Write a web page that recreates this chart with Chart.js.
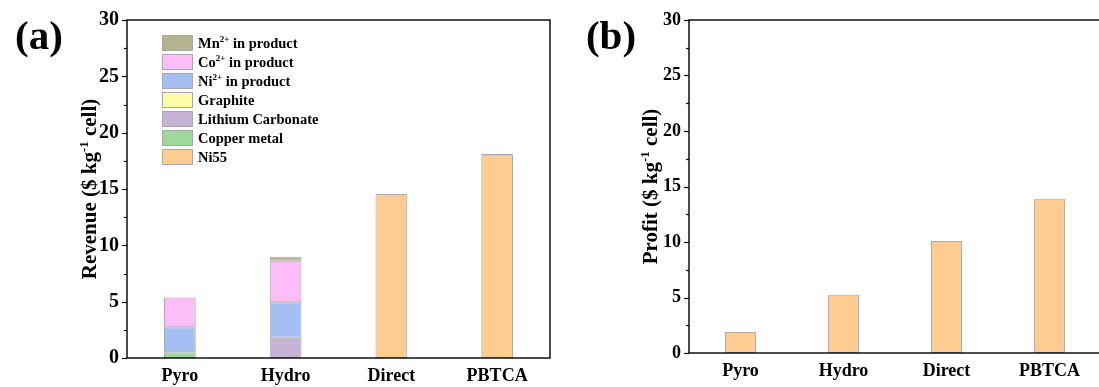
<!DOCTYPE html>
<html>
<head>
<meta charset="utf-8">
<script src="https://cdn.jsdelivr.net/npm/chart.js@4.4.1/dist/chart.umd.min.js"></script>
<style>
  html, body { margin: 0; padding: 0; background: #fff; overflow: hidden; width: 1099px; height: 387px; }
  #revenue { position: absolute; left: 0; top: 0; }
  #profit { position: absolute; left: 580px; top: 0; }
</style>
</head>
<body>
<canvas id="revenue" width="560" height="387"></canvas>
<canvas id="profit" width="530" height="387"></canvas>
<script>
// Recycling routes
const categories = ['Pyro', 'Hydro', 'Direct', 'PBTCA'];

// Revenue components ($ kg-1 cell), stacked bottom to top
const ni55      = [null, null, 14.56, 18.0];
const copper    = [0.5, null, null, null];
const lithium   = [null, 1.8, null, 0.12];
const graphite  = [null, null, null, null];
const nickel    = [2.24, 3.15, null, null];
const cobalt    = [2.62, 3.68, null, null];
const manganese = [null, 0.35, null, null];

// Profit ($ kg-1 cell)
const profit = [1.9, 5.25, 10.1, 13.9];

// Y axis ticks
const yMin = 0, yMax = 30, yStep = 5, yMinorStep = 2.5;

const SERIF = '"Liberation Serif", "Times New Roman", serif';
const EDGE = '#a9a9a9';

// Draw a run of text pieces, some of them raised as superscripts
function richWidth(ctx, parts, size) {
  let w = 0;
  for (const p of parts) {
    ctx.font = 'bold ' + (p.sup ? size * 0.62 : size) + 'px ' + SERIF;
    w += ctx.measureText(p.t).width;
  }
  return w;
}
function drawRich(ctx, parts, x, y, size) {
  let cx = x;
  for (const p of parts) {
    const s = p.sup ? size * 0.62 : size;
    ctx.font = 'bold ' + s + 'px ' + SERIF;
    ctx.fillText(p.t, cx, p.sup ? y - size * 0.38 : y);
    cx += ctx.measureText(p.t).width;
  }
}

// Frame, outward y ticks, panel letter and rotated y title
function decorations(opts) {
  return {
    id: 'decor',
    afterDraw(chart) {
      const ctx = chart.ctx;
      const a = chart.chartArea;
      const ys = chart.scales.y;
      ctx.save();
      ctx.strokeStyle = '#000';
      ctx.lineWidth = 1.4;
      ctx.strokeRect(a.left, a.top, a.right - a.left, a.bottom - a.top);
      ctx.lineWidth = 1.2;
      for (let v = yMin; v <= yMax + 1e-9; v += yMinorStep) {
        const py = Math.round(ys.getPixelForValue(v)) + 0.5;
        const len = (Math.abs(v % yStep) < 1e-9) ? 5 : 3;
        ctx.beginPath();
        ctx.moveTo(a.left - len, py);
        ctx.lineTo(a.left, py);
        ctx.stroke();
      }
      ctx.fillStyle = '#000';
      ctx.textAlign = 'center';
      ctx.textBaseline = 'middle';
      ctx.font = 'bold ' + opts.letterSize + 'px ' + SERIF;
      ctx.fillText(opts.letter, opts.letterX, opts.letterY);

      ctx.translate(opts.titleX, (a.top + a.bottom) / 2);
      ctx.rotate(-Math.PI / 2);
      ctx.textAlign = 'left';
      ctx.textBaseline = 'alphabetic';
      const w = richWidth(ctx, opts.title, opts.titleSize);
      drawRich(ctx, opts.title, -w / 2, opts.titleSize * 0.35, opts.titleSize);
      ctx.restore();
    }
  };
}

// Legend with superscript charges, listed top of stack first
const legendText = {
  'Mn2+ in product': [{t: 'Mn'}, {t: '2+', sup: true}, {t: ' in product'}],
  'Co2+ in product': [{t: 'Co'}, {t: '2+', sup: true}, {t: ' in product'}],
  'Ni2+ in product': [{t: 'Ni'}, {t: '2+', sup: true}, {t: ' in product'}],
  'Graphite': [{t: 'Graphite'}],
  'Lithium Carbonate': [{t: 'Lithium Carbonate'}],
  'Copper metal': [{t: 'Copper metal'}],
  'Ni55': [{t: 'Ni55'}]
};
const stackLegend = {
  id: 'stackLegend',
  afterDraw(chart) {
    const ctx = chart.ctx;
    const sets = chart.data.datasets.slice().reverse();
    ctx.save();
    ctx.textAlign = 'left';
    ctx.textBaseline = 'alphabetic';
    ctx.fillStyle = '#000';
    sets.forEach((ds, i) => {
      const cy = 43 + i * 19;
      ctx.fillStyle = ds.backgroundColor;
      ctx.fillRect(162, cy - 8, 31, 16);
      ctx.strokeStyle = EDGE;
      ctx.lineWidth = 1;
      ctx.strokeRect(162.5, cy - 7.5, 30, 15);
      ctx.fillStyle = '#000';
      drawRich(ctx, legendText[ds.label], 198, cy + 5, 14.5);
    });
    ctx.restore();
  }
};

function axisOptions(tickSize, yWidth, xHeight) {
  return {
    x: {
      stacked: true,
      grid: { display: false, drawTicks: false },
      border: { display: false },
      ticks: { color: '#000', font: { family: SERIF, size: 18, weight: 'bold' }, padding: 8, maxRotation: 0 },
      afterFit(s) { s.height = xHeight; }
    },
    y: {
      stacked: true,
      min: yMin, max: yMax,
      grid: { display: false, drawTicks: false },
      border: { display: false },
      ticks: { stepSize: yStep, color: '#000', font: { family: SERIF, size: tickSize, weight: 'bold' }, padding: 8 },
      afterFit(s) { s.width = yWidth; }
    }
  };
}

function barSet(label, data, color) {
  return {
    label, data,
    backgroundColor: color,
    borderColor: EDGE,
    borderWidth: 1,
    borderSkipped: false,
    categoryPercentage: 1,
    barPercentage: 0.3
  };
}

new Chart(document.getElementById('revenue'), {
  type: 'bar',
  data: {
    labels: categories,
    datasets: [
      barSet('Ni55', ni55, '#fecb90'),
      barSet('Copper metal', copper, '#9fd89b'),
      barSet('Lithium Carbonate', lithium, '#c6b3d6'),
      barSet('Graphite', graphite, '#fdfca6'),
      barSet('Ni2+ in product', nickel, '#a4bff4'),
      barSet('Co2+ in product', cobalt, '#fcbdf9'),
      barSet('Mn2+ in product', manganese, '#b5b28e')
    ]
  },
  options: {
    responsive: false,
    animation: false,
    devicePixelRatio: 1,
    layout: { padding: { left: 87, right: 10, top: 18, bottom: 0 } },
    plugins: { legend: { display: false }, tooltip: { enabled: false } },
    scales: axisOptions(20, 40, 29)
  },
  plugins: [stackLegend, decorations({
    letter: '(a)', letterX: 39, letterY: 38, letterSize: 41,
    titleX: 89, titleSize: 21,
    title: [{t: 'Revenue ($ kg'}, {t: '-1', sup: true}, {t: ' cell)'}]
  })]
});

new Chart(document.getElementById('profit'), {
  type: 'bar',
  data: {
    labels: categories,
    datasets: [barSet('Profit', profit, '#fecb90')]
  },
  options: {
    responsive: false,
    animation: false,
    devicePixelRatio: 1,
    layout: { padding: { left: 69, right: 9, top: 20, bottom: 5 } },
    plugins: { legend: { display: false }, tooltip: { enabled: false } },
    scales: axisOptions(18, 40, 29)
  },
  plugins: [decorations({
    letter: '(b)', letterX: 31, letterY: 38, letterSize: 41,
    titleX: 70, titleSize: 21,
    title: [{t: 'Profit ($ kg'}, {t: '-1', sup: true}, {t: ' cell)'}]
  })]
});
</script>
</body>
</html>
